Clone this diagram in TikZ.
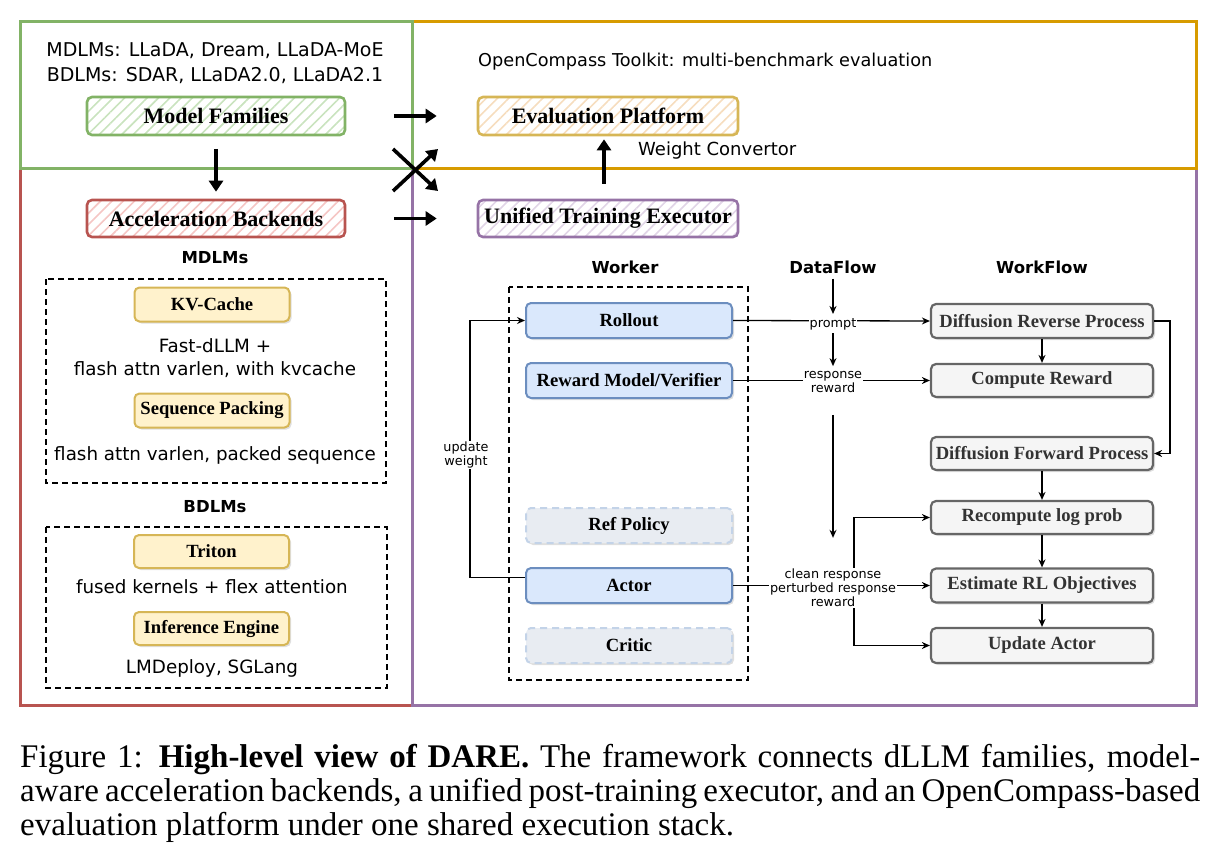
\documentclass[tikz,border=0pt]{standalone}
\usepackage{fontspec}
\setmainfont{Liberation Serif}
\newfontfamily\hand{DejaVu Sans}
\usetikzlibrary{arrows.meta,patterns.meta,shadows,calc}
\definecolor{grnD}{HTML}{82B366}\definecolor{grnL}{HTML}{C9E3BE}
\definecolor{redD}{HTML}{B85450}\definecolor{redL}{HTML}{F5C6C4}
\definecolor{orgD}{HTML}{D79B00}\definecolor{orgL}{HTML}{F6DDBE}
\definecolor{golD}{HTML}{D6B656}\definecolor{golL}{HTML}{FFF2CC}
\definecolor{purD}{HTML}{9673A6}\definecolor{purL}{HTML}{E1D5E7}
\definecolor{bluD}{HTML}{6C8EBF}\definecolor{bluL}{HTML}{DAE8FC}
\definecolor{dshD}{HTML}{C3D3E8}\definecolor{dshL}{HTML}{E8ECF2}
\definecolor{gryD}{HTML}{666666}\definecolor{gryL}{HTML}{F5F5F5}
\tikzset{
  frame/.style={line width=3pt},
  hatchbox/.style={draw=#1D, line width=2.6pt, rounded corners=5pt,
    pattern={Lines[angle=45,distance=8pt,line width=1.6pt]}, pattern color=#1L,
    minimum width=258pt, minimum height=37pt, inner sep=0pt,
    font=\fontsize{22}{24}\selectfont\bfseries},
  shbox/.style={rounded corners=5pt, line width=2pt, inner sep=0pt,
    drop shadow={opacity=0.25,shadow xshift=2pt,shadow yshift=-2pt}},
  ybox/.style={shbox, draw=golD, fill=golL, minimum width=155pt, minimum height=34pt,
    font=\fontsize{18.6}{20}\selectfont\bfseries},
  bbox/.style={shbox, draw=bluD, fill=bluL, minimum width=206pt, minimum height=35pt,
    font=\fontsize{18.6}{20}\selectfont\bfseries},
  dbox/.style={shbox, draw=dshD, fill=dshL, dashed, dash pattern=on 7pt off 5pt,
    minimum width=206pt, minimum height=35pt, font=\fontsize{18.6}{20}\selectfont\bfseries},
  wbox/.style={shbox, draw=gryD, fill=gryL, line width=2.2pt, minimum width=222pt,
    minimum height=34pt, font=\fontsize{18.6}{20}\selectfont\bfseries, text=black!80},
  dashbox/.style={draw, line width=1.6pt, dash pattern=on 6pt off 4pt},
  htxt/.style={font=\hand\fontsize{18.3}{22.5}\selectfont, align=center, inner sep=0pt},
  head/.style={font=\hand\bfseries\fontsize{16.5}{18}\selectfont, inner sep=0pt},
  lbl/.style={font=\hand\fontsize{12.8}{16}\selectfont, align=center, fill=white, inner sep=1pt},
  bigarrow/.style={line width=3.6pt, -{Triangle[length=11pt,width=14pt]}},
  arr/.style={line width=1.3pt, -{Stealth[length=8pt,width=7pt]}},
}
\begin{document}
\begin{tikzpicture}[x=1pt,y=-1pt]
\useasboundingbox (0,0) rectangle (1223,856);
% frames
\draw[frame, redD] (20,168) rectangle (412,705);
\draw[frame, purD] (412,168) rectangle (1196,705);
\draw[frame, orgD] (412,22) rectangle (1196,168);
\draw[frame, grnD] (20,22) rectangle (412,168);
% top-left texts
\node[htxt, font=\hand\fontsize{19}{25}\selectfont] (mtxt) at (215,63) {MDLMs: LLaDA, Dream, LLaDA-MoE\\BDLMs: SDAR, LLaDA2.0, LLaDA2.1};
\node[htxt, anchor=west, font=\hand\fontsize{17.7}{20}\selectfont] (oct) at (478,62) {OpenCompass Toolkit: multi-benchmark evaluation};
% main boxes
\node[hatchbox=grn, minimum height=38pt] (mf) at (216,116) {Model Families};
\node[hatchbox=red] (ab) at (216,218.5) {Acceleration Backends};
\node[hatchbox=org, draw=golD, minimum width=260pt, minimum height=38pt] (ep) at (608,116) {Evaluation Platform};
\node[hatchbox=pur, minimum width=260pt] (ute) at (608,218.5) {Unified Training Executor};
% big arrows
\draw[bigarrow, shorten <=13pt, shorten >=7pt] (mf) -- (ab);
\draw[bigarrow, shorten <=48pt, shorten >=40pt] (mf.east) -- (ep.west);
\draw[bigarrow, shorten <=48pt, shorten >=40pt] (ab.east) -- (ute.west);
\coordinate (xa1) at (393,149); \coordinate (xa2) at (438,191);
\coordinate (xb1) at (393,191); \coordinate (xb2) at (438,149);
\draw[bigarrow] (xa1) -- (xa2);
\draw[bigarrow] (xb1) -- (xb2);
\draw[bigarrow, shorten <=15pt, shorten >=3pt] (ute.north -| 604,0) -- (ep.south -| 604,0);
\node[htxt, anchor=west, font=\hand\fontsize{18}{20}\selectfont] (wc) at (638,151) {Weight Convertor};
% left column
\node[head] (mdl) at (215,258) {MDLMs};
\draw[dashbox] (46,279) rectangle (386,483);
\node[ybox] (kv) at (212,304.5) {KV-Cache};
\node[htxt] (fd) at (215,358) {Fast-dLLM +\\flash attn varlen, with kvcache};
\node[ybox] (sp) at (212,410.5) {Sequence Packing};
\node[htxt] (fa) at (215,455) {flash attn varlen, packed sequence};
\node[head] (bdl) at (215,507) {BDLMs};
\draw[dashbox] (46,527) rectangle (387,688);
\node[ybox, minimum height=33pt] (tr) at (211.5,551.5) {Triton};
\node[htxt] (fk) at (212,587) {fused kernels + flex attention};
\node[ybox, minimum height=33pt] (ie) at (211.5,628.5) {Inference Engine};
\node[htxt] (lm) at (212,668) {LMDeploy, SGLang};
% worker column
\node[head] (wk) at (625,267) {Worker};
\draw[dashbox] (509,287) rectangle (748,680);
\node[bbox] (ro) at (629,320.5) {Rollout};
\node[bbox] (rm) at (629,380.5) {Reward Model/Verifier};
\node[dbox] (rp) at (629,525.5) {Ref Policy};
\node[bbox] (ac) at (629,585.5) {Actor};
\node[dbox] (cr) at (629,645.5) {Critic};
% workflow column
\node[head] (dfh) at (833,267) {DataFlow};
\node[head] (wfh) at (1042,267) {WorkFlow};
\node[wbox] (drp) at (1042,321) {Diffusion Reverse Process};
\node[wbox, minimum height=33pt] (cpr) at (1042,380.5) {Compute Reward};
\node[wbox, minimum height=33pt] (dfp) at (1042,453.5) {Diffusion Forward Process};
\node[wbox, minimum height=33pt] (rlp) at (1042,517.5) {Recompute log prob};
\node[wbox] (ero) at (1042,585.5) {Estimate RL Objectives};
\node[wbox, minimum height=35pt] (ua) at (1042,645.5) {Update Actor};
% workflow arrows
\draw[arr] (drp) -- (cpr);
\draw[arr] (dfp) -- (rlp);
\draw[arr] (rlp) -- (ero);
\draw[arr] (ero) -- (ua);
\draw[arr] (drp.east) -- ++(16,0) |- (dfp.east);
% dataflow
\draw[arr] (ro.east) -- (drp.west);
\draw[arr] (rm.east) -- (cpr.west);
\draw[arr] (ac.east) -- (ero.west);
\node[lbl] (pr) at (833,324) {prompt};
\node[lbl] (rr) at (833,382) {response\\[-2pt]reward};
\node[lbl] (cl) at (833,588) {clean response\\[-2pt]perturbed response\\[-2pt]reward};
\draw[arr, shorten <=5pt, shorten >=3pt] (dfh.south) -- (pr.north);
\draw[arr, shorten <=2pt, shorten >=4pt] (pr.south) -- (rr.north);
\draw[arr, shorten <=21pt, shorten >=30pt] (rr.south) -- (cl.north);
\draw[arr] ($(cl.north)+(21,0)$) |- (rlp.west);
\draw[arr] ($(cl.south)+(21,0)$) |- (ua.west);
% update weight loop
\draw[arr] ($(ac.west)+(0,-8)$) -| ($(ro.west)+(-55,0)$) -- (ro.west);
\node[lbl] (uw) at (466,455) {update\\[-2pt]weight};
% caption
\node[anchor=north west, text width=1180pt, align=justify, inner sep=0pt,
  font=\fontsize{33}{34}\selectfont] (cap) at (20,744)
  {Figure 1: \textbf{High-level view of DARE.} The framework connects dLLM families, model-\linebreak
   aware acceleration backends, a unified post-training executor, and an OpenCompass-based\linebreak
   evaluation platform under one shared execution stack.};
\end{tikzpicture}
\end{document}
